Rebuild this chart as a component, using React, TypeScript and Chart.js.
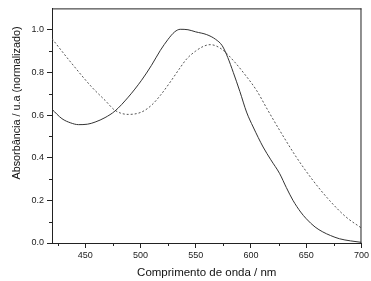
import React, { useEffect, useRef } from "react";
import { Chart, registerables } from "chart.js";

Chart.register(...registerables);

// Solid curve (wavelength nm, normalized absorbance)
const solidWavelengths = [420, 429, 437, 444, 452, 459, 468, 477, 489, 501, 510, 518, 525, 531, 536, 543, 550, 560, 568, 574, 579, 584, 590, 596, 602, 611, 618, 626, 632, 638, 645, 650, 658, 665, 672, 680, 690, 700];
const solidValues = [0.627, 0.583, 0.563, 0.555, 0.557, 0.567, 0.588, 0.619, 0.684, 0.763, 0.833, 0.903, 0.955, 0.99, 1.002, 1.0, 0.99, 0.977, 0.955, 0.925, 0.87, 0.8, 0.71, 0.614, 0.544, 0.45, 0.39, 0.325, 0.26, 0.2, 0.145, 0.114, 0.075, 0.052, 0.035, 0.02, 0.01, 0.003];

// Dotted curve
const dottedWavelengths = [420, 438, 456, 468, 477, 489, 501, 510, 518, 527, 535, 542, 550, 557, 563, 568, 575, 585, 593, 605, 615, 626, 641, 656, 671, 686, 700];
const dottedValues = [0.958, 0.841, 0.731, 0.669, 0.622, 0.603, 0.614, 0.646, 0.692, 0.755, 0.815, 0.864, 0.9, 0.922, 0.93, 0.925, 0.903, 0.85, 0.80, 0.716, 0.625, 0.528, 0.403, 0.294, 0.2, 0.122, 0.07];

const xTickValues = [450, 500, 550, 600, 650, 700];
const xMinorTicks = [425, 475, 525, 575, 625, 675];
const yTickValues = [0.0, 0.2, 0.4, 0.6, 0.8, 1.0];
const yMinorTicks = [0.1, 0.3, 0.5, 0.7, 0.9];

const xTitle = "Comprimento de onda / nm";
const yTitle = "Absorbância / u.a (normalizado)";

const AXIS = "#222222";
const FONT = "'Liberation Sans', Arial, sans-serif";

export default function App() {
  const canvasRef = useRef<HTMLCanvasElement | null>(null);

  useEffect(() => {
    const canvas = canvasRef.current;
    if (!canvas) return;

    const framePlugin = {
      id: "frame",
      afterDraw(chart: any) {
        const ctx = chart.ctx;
        const { left, right, top, bottom } = chart.chartArea;
        const xs = chart.scales.x;
        const ys = chart.scales.y;
        ctx.save();
        ctx.strokeStyle = AXIS;
        ctx.lineWidth = 1;
        ctx.beginPath();
        ctx.moveTo(left, top + 0.5);
        ctx.lineTo(right, top + 0.5);
        ctx.moveTo(right - 0.5, top);
        ctx.lineTo(right - 0.5, bottom);
        // minor ticks
        xMinorTicks.forEach((v) => {
          const px = Math.round(xs.getPixelForValue(v)) + 0.5;
          ctx.moveTo(px, bottom);
          ctx.lineTo(px, bottom + 3);
        });
        yMinorTicks.forEach((v) => {
          const py = Math.round(ys.getPixelForValue(v)) + 0.5;
          ctx.moveTo(left, py);
          ctx.lineTo(left - 3, py);
        });
        ctx.stroke();

        // titles
        ctx.fillStyle = "#111111";
        ctx.font = `11.5px ${FONT}`;
        ctx.textAlign = "center";
        ctx.textBaseline = "alphabetic";
        ctx.fillText(xTitle, (left + right) / 2, 276);
        ctx.translate(20, 103);
        ctx.rotate(-Math.PI / 2);
        ctx.font = `10.8px ${FONT}`;
        ctx.fillText(yTitle, 0, 0);
        ctx.restore();
      },
    };

    const chart = new Chart(canvas, {
      type: "line",
      data: {
        datasets: [
          {
            data: solidWavelengths.map((x, i) => ({ x, y: solidValues[i] })),
            borderColor: "#333333",
            borderWidth: 1,
            pointRadius: 0,
            cubicInterpolationMode: "monotone",
            fill: false,
          },
          {
            data: dottedWavelengths.map((x, i) => ({ x, y: dottedValues[i] })),
            borderColor: "#555555",
            borderWidth: 1,
            borderDash: [2, 2],
            pointRadius: 0,
            cubicInterpolationMode: "monotone",
            fill: false,
          },
        ],
      },
      options: {
        animation: false,
        responsive: false,
        events: [],
        layout: { padding: { top: 7, right: 9, left: 0, bottom: 0 } },
        plugins: { legend: { display: false }, tooltip: { enabled: false } },
        scales: {
          x: {
            type: "linear",
            min: 420,
            max: 700,
            afterFit(scale: any) {
              scale.height = 38;
            },
            afterBuildTicks(scale: any) {
              scale.ticks = xTickValues.map((value) => ({ value }));
            },
            grid: { drawOnChartArea: false, drawTicks: true, tickLength: 5, color: AXIS },
            border: { display: true, color: AXIS, width: 1 },
            ticks: {
              color: "#222222",
              font: { family: FONT, size: 9 },
              padding: 2,
              maxRotation: 0,
              callback: (v: any) => String(v),
            },
          },
          y: {
            type: "linear",
            min: 0,
            max: 1.1,
            afterFit(scale: any) {
              scale.width = 52;
            },
            afterBuildTicks(scale: any) {
              scale.ticks = yTickValues.map((value) => ({ value }));
            },
            grid: { drawOnChartArea: false, drawTicks: true, tickLength: 5, color: AXIS },
            border: { display: true, color: AXIS, width: 1 },
            ticks: {
              color: "#222222",
              font: { family: FONT, size: 9 },
              padding: 3,
              callback: (v: any) => Number(v).toFixed(1),
            },
          },
        },
      },
      plugins: [framePlugin],
    });

    return () => chart.destroy();
  }, []);

  return (
    <div style={{ position: "fixed", left: 0, top: 0, width: 371, height: 281, background: "#fff" }}>
      <canvas ref={canvasRef} width={371} height={281} />
    </div>
  );
}
